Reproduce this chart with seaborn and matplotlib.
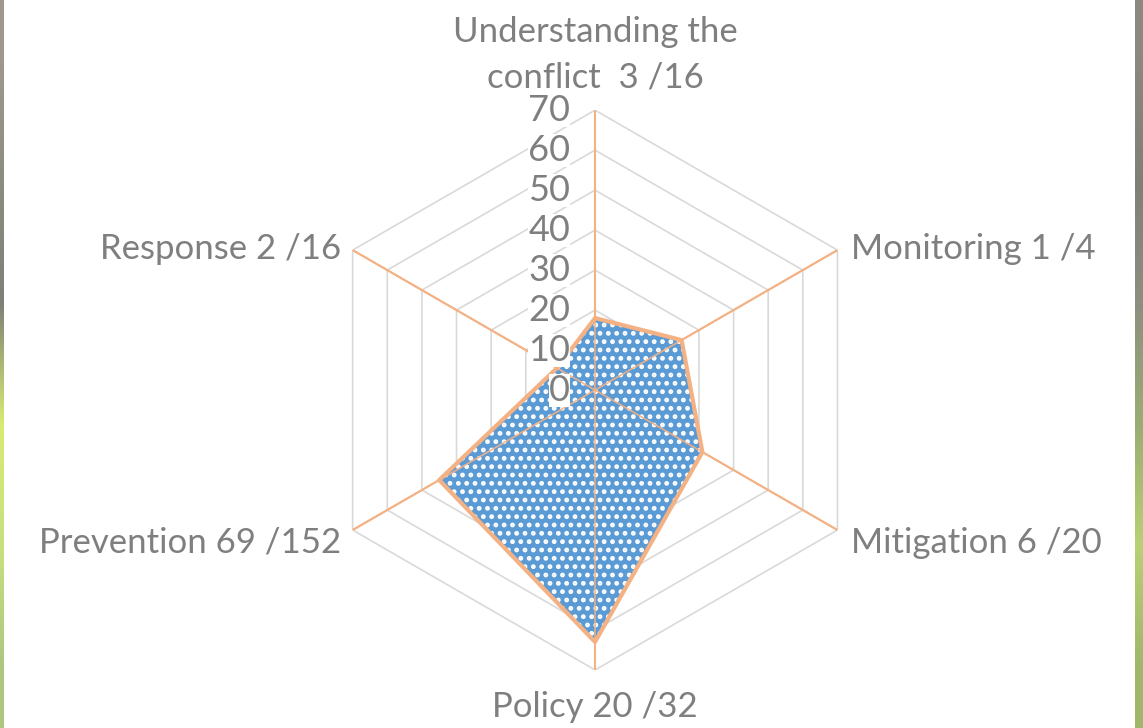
import numpy as np
import matplotlib
matplotlib.use("Agg")
import matplotlib.pyplot as plt
import seaborn as sns

# data
categories = ["Understanding the\nconflict  3 /16", "Monitoring 1 /4", "Mitigation 6 /20",
              "Policy 20 /32", "Prevention 69 /152", "Response 2 /16"]
values = [18, 25, 31, 63, 45, 11]
ticks = [0, 10, 20, 30, 40, 50, 60, 70]

sns.set_theme(style="white")
plt.rcParams["font.family"] = ["Lato", "DejaVu Sans"]
plt.rcParams["hatch.linewidth"] = 2.2

grey_text = "#7F7F7F"
grid_col = "#D9D9D9"
orange = "#F4B183"
blue = "#5B9BD5"

fig = plt.figure(figsize=(11.43, 7.28), dpi=100)
fig.patch.set_facecolor("white")

# thin photo strips at the edges of the slide
left_cols = np.array([[0.62, 0.6, 0.55], [0.55, 0.55, 0.5], [0.5, 0.5, 0.47],
                      [0.85, 0.92, 0.45], [0.78, 0.88, 0.5], [0.68, 0.78, 0.5]])
right_cols = np.array([[0.55, 0.53, 0.5], [0.5, 0.5, 0.47], [0.55, 0.56, 0.5],
                       [0.6, 0.68, 0.45], [0.72, 0.82, 0.45], [0.62, 0.72, 0.42]])
for x0, w, cols in ((0.0, 4 / 1143, left_cols), (1135 / 1143, 8 / 1143, right_cols)):
    sax = fig.add_axes([x0, 0, w, 1])
    sax.imshow(cols[:, None, :], aspect="auto", interpolation="bilinear")
    sax.axis("off")

ax = fig.add_axes([0.2756, 0.0797, 0.49, 0.769], projection="polar")
ax.set_theta_offset(np.pi / 2)
ax.set_theta_direction(-1)
ax.set_ylim(0, 70)
ax.grid(False)
ax.spines["polar"].set_visible(False)
ax.set_xticks([])
ax.set_yticks([])
ax.patch.set_alpha(0)

n = len(categories)
angles = np.linspace(0, 2 * np.pi, n, endpoint=False)
closed = np.append(angles, angles[0])

# hexagonal grid rings
for t in ticks[1:]:
    ax.plot(closed, [t] * (n + 1), color=grid_col, lw=1.2, zorder=1)

# spokes
for a in angles:
    ax.plot([a, a], [0, ticks[-1]], color=orange, lw=1.5, zorder=2)

vals = np.append(values, values[0])
ax.fill(closed, vals, facecolor=blue, edgecolor="white", hatch="..", lw=0, zorder=3)
ax.plot(closed, vals, color=orange, lw=3, zorder=4)
# spokes visible through the fill
for a in angles:
    ax.plot([a, a], [0, ticks[-1]], color=orange, lw=1.2, zorder=4.5, alpha=0.9)

# radial tick labels
for t in ticks:
    ax.annotate(str(t), xy=(0, t), xytext=(-18, 0), textcoords="offset points",
                ha="right", va="center", fontsize=26, color=grey_text, zorder=6,
                bbox=dict(boxstyle="square,pad=0.0", fc="white", ec="none"))

# category labels
offsets = [(0, 12), (10, 1), (10, -9), (0, -15), (-8, -9), (-8, 1)]
aligns = [("center", "bottom"), ("left", "center"), ("left", "center"),
          ("center", "top"), ("right", "center"), ("right", "center")]
for a, lab, off, (ha, va) in zip(angles, categories, offsets, aligns):
    ax.annotate(lab, xy=(a, ticks[-1]), xytext=off, textcoords="offset points",
                ha=ha, va=va, fontsize=25, color=grey_text, linespacing=1.5,
                annotation_clip=False)

fig.savefig("out.png", dpi=100)
